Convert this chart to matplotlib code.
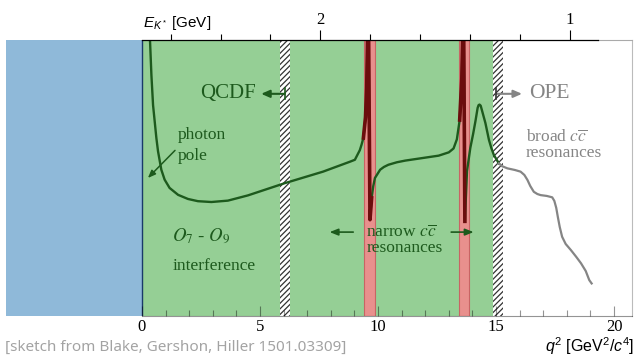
import numpy as np
import matplotlib
matplotlib.use('Agg')
import matplotlib.pyplot as plt

plt.rcParams['mathtext.fontset'] = 'custom'
plt.rcParams['mathtext.rm'] = 'Liberation Sans'
plt.rcParams['mathtext.it'] = 'Liberation Sans:italic'
plt.rcParams['hatch.linewidth'] = 0.9

# sketch of dB/dq^2 (arbitrary units)
q2_sm = [0.31, 0.34, 0.40, 0.47, 0.61, 0.68, 0.82, 0.96, 1.17, 1.53, 1.95, 2.37,
         2.94, 3.64, 4.49, 6.04, 7.67, 8.81, 9.02, 9.23, 9.30, 9.38, 9.47, 9.52,
         9.56, 9.60, 9.66, 9.73, 9.80, 9.87, 10.09, 10.25, 10.44, 10.80, 11.15,
         11.86, 12.57, 13.00, 13.20, 13.34, 13.46, 13.55, 13.59, 13.63, 13.68,
         13.77, 13.91, 14.03, 14.13, 14.22, 14.26, 14.30, 14.35, 14.42, 14.55,
         14.70, 14.80, 14.91, 15.12]
dbdq2_sm = [10.6, 10.0, 8.73, 7.64, 6.45, 5.97, 5.30, 4.94, 4.64, 4.39, 4.24, 4.16,
            4.13, 4.18, 4.37, 4.81, 5.23, 5.59, 5.66, 6.01, 6.20, 6.45, 7.20, 8.26,
            10.3, 10.4, 3.49, 4.28, 4.71, 5.00, 5.30, 5.40, 5.48, 5.57, 5.63,
            5.72, 5.81, 5.93, 6.07, 6.40, 7.10, 8.60, 10.3, 10.4, 3.43,
            5.25, 6.09, 6.60, 7.07, 7.54, 7.64, 7.66, 7.62, 7.40, 6.99,
            6.38, 6.09, 5.83, 5.53]

q2_ope = [15.12, 15.25, 15.48, 15.80, 16.04, 16.20, 16.33, 16.45, 16.60, 16.75,
          16.89, 17.15, 17.38, 17.47, 17.55, 17.62, 17.70, 17.80, 17.95, 18.17,
          18.40, 18.60, 18.80, 18.95, 19.05]
dbdq2_ope = [5.53, 5.43, 5.35, 5.29, 5.23, 5.11, 4.93, 4.71, 4.50, 4.42,
             4.38, 4.35, 4.30, 4.17, 3.92, 3.58, 3.22, 2.87, 2.61, 2.39,
             2.14, 1.91, 1.63, 1.30, 1.18]

# regions in q^2
narrow_bands = [(9.41, 9.87), (13.43, 13.86)]
hatch_bands = [(5.85, 6.27), (14.87, 15.30)]
green_region = (0.0, 14.87)

# E_K* top axis ticks [GeV]
E_major = [2, 1]
E_minor = [2.6, 2.4, 2.2, 1.8, 1.6, 1.4, 1.2]
mB, mK = 5.28, 0.892

def E_to_q2(E):
    return mB**2 + mK**2 - 2 * mB * np.asarray(E)

dkgreen = '#1d5a1d'
dkred = '#6b0d0d'
grey = '#858585'
serif = 'Liberation Serif'

fig = plt.figure(figsize=(6.38, 3.57), dpi=100)
ax = fig.add_axes([6/638, 41/357, 626/638, 276/357])
ax.set_xlim(-5.76, 20.76)
ax.set_ylim(0, 10)

ax.axvspan(-5.76, 0, color='#8fb9d9', lw=0, zorder=0)
ax.axvspan(*green_region, color='#95cf95', lw=0, zorder=0)
ax.axvline(0, color='#1a3a6a', lw=1.0, zorder=1)
for a, b in narrow_bands:
    ax.axvspan(a, b, facecolor='#e8908d', edgecolor='#c86464', lw=0.8, zorder=1)
for a, b in hatch_bands:
    ax.axvspan(a, b, facecolor='white', edgecolor='#333333', hatch='//////',
               lw=0, zorder=1)

q2 = np.array(q2_sm)
y = np.array(dbdq2_sm)
ax.plot(q2, y, color=dkgreen, lw=1.7, zorder=3, solid_joinstyle='round')
for a, b in narrow_bands:
    m = (q2 >= a - 0.03) & (q2 <= b - 0.1)
    ax.plot(q2[m], y[m], color=dkred, lw=2.6, zorder=4, solid_joinstyle='round')
ax.plot(q2_ope, dbdq2_ope, color=grey, lw=1.6, zorder=3, solid_joinstyle='round')

# axes frame
fr = (0, 0, 0, 0.42)
ax.spines['left'].set_visible(False)
ax.spines['bottom'].set_bounds(0, 20.76)
ax.spines['bottom'].set_color(fr)
ax.spines['right'].set_color('#bbbbbb')
ax.spines['right'].set_linewidth(0.8)
ax.spines['top'].set_bounds(19.3, 20.76)
ax.spines['top'].set_color('#aaaaaa')
ax.set_yticks([])
ax.set_xticks([0, 5, 10, 15, 20])
ax.set_xticks(range(0, 21), minor=True)
ax.tick_params(axis='x', which='major', direction='in', length=7, width=0.8,
               color=fr, labelsize=12, pad=2)
ax.tick_params(axis='x', which='minor', direction='in', length=4, width=0.8, color=fr)
for lab in ax.get_xticklabels():
    lab.set_fontfamily(serif)

ax2 = ax.twiny()
ax2.set_xlim(ax.get_xlim())
for s in ['left', 'right', 'bottom']:
    ax2.spines[s].set_visible(False)
ax2.spines['top'].set_bounds(0, 19.3)
ax2.spines['top'].set_linewidth(0.9)
ax2.set_xticks(E_to_q2(E_major))
ax2.set_xticklabels([str(e) for e in E_major], fontfamily=serif, fontsize=12)
ax2.set_xticks(E_to_q2(E_minor), minor=True)
ax2.tick_params(axis='x', which='major', direction='out', length=7.5, width=0.8, pad=1)
ax2.tick_params(axis='x', which='minor', direction='out', length=4.5, width=0.8)

fig.text(143/638, 1 - 27/357, r'$E_{K^*}$ [GeV]', fontsize=11, family='Liberation Sans')
fig.text(634/638, 1 - 352/357, r'$q^2$ [GeV$^2$/$c^4$]', fontsize=11.5,
         family='Liberation Sans', ha='right')
fig.text(5/638, 1 - 351/357, '[sketch from Blake, Gershon, Hiller 1501.03309]',
         fontsize=11, family='Noto Sans', color='#a3a3a3')

# annotations
ax.text(2.45, 8.05, 'QCDF', fontsize=15, family=serif, color=dkgreen, va='center')
ax.annotate('', xy=(5.05, 8.05), xytext=(6.05, 8.05),
            arrowprops=dict(arrowstyle='-|>,head_length=0.5,head_width=0.22',
                            color=dkgreen, lw=1.5, shrinkA=0, shrinkB=0))
ax.plot([6.05, 6.05], [7.85, 8.25], color=dkgreen, lw=1.2, zorder=3)

ax.text(16.4, 8.05, 'OPE', fontsize=15.5, family=serif, color=grey, va='center')
ax.annotate('', xy=(16.1, 8.05), xytext=(15.0, 8.05),
            arrowprops=dict(arrowstyle='-|>,head_length=0.5,head_width=0.22',
                            color=grey, lw=1.5, shrinkA=0, shrinkB=0))
ax.plot([15.0, 15.0], [7.85, 8.25], color='#333333', lw=1.2, zorder=3)

ax.text(1.53, 6.4, 'photon', fontsize=12.5, family=serif, color=dkgreen)
ax.text(1.53, 5.65, 'pole', fontsize=12.5, family=serif, color=dkgreen)
ax.annotate('', xy=(0.25, 5.0), xytext=(1.4, 6.0),
            arrowprops=dict(arrowstyle='-|>,head_length=0.45,head_width=0.18',
                            color=dkgreen, lw=1.1, shrinkA=0, shrinkB=0))

ax.text(1.28, 2.72, r'$\mathit{O}_7$ - $\mathit{O}_9$', fontsize=13.5, family=serif,
        color=dkgreen, math_fontfamily='stix')
ax.text(1.28, 1.67, 'interference', fontsize=12.5, family=serif, color=dkgreen)

ax.text(9.5, 2.86, r'narrow $c\overline{c}$', fontsize=12.5, family=serif,
        color=dkgreen, math_fontfamily='stix')
ax.text(9.5, 2.33, 'resonances', fontsize=12.5, family=serif, color=dkgreen)
ax.annotate('', xy=(7.95, 3.04), xytext=(8.95, 3.04),
            arrowprops=dict(arrowstyle='-|>,head_length=0.5,head_width=0.2',
                            color=dkgreen, lw=1.2, shrinkA=0, shrinkB=0))
ax.annotate('', xy=(14.05, 3.04), xytext=(13.1, 3.04),
            arrowprops=dict(arrowstyle='-|>,head_length=0.5,head_width=0.2',
                            color=dkgreen, lw=1.2, shrinkA=0, shrinkB=0))

ax.text(16.25, 6.3, r'broad $c\overline{c}$', fontsize=12.5, family=serif,
        color=grey, math_fontfamily='stix')
ax.text(16.25, 5.75, 'resonances', fontsize=12.5, family=serif, color=grey)

fig.savefig('out.png', dpi=100)
